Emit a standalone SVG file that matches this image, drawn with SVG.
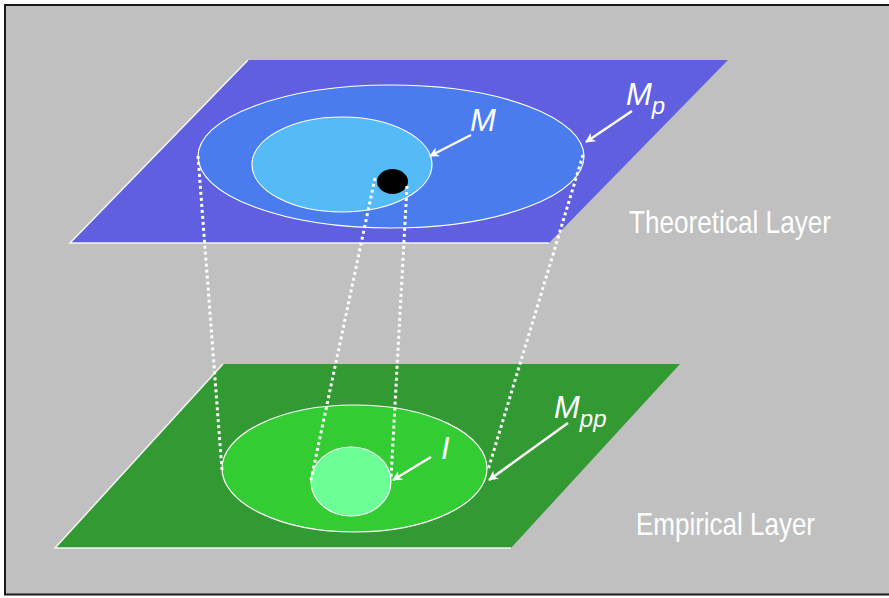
<svg xmlns="http://www.w3.org/2000/svg" width="889" height="598" viewBox="0 0 889 598">
<style>
.edge{fill:none;stroke:#f4f4f4;stroke-width:1.5}
.ell{stroke:#ffffff;stroke-width:1.2}
.dot{fill:none;stroke:#ffffff;stroke-width:3;stroke-dasharray:3 3}
.arr{fill:none;stroke:#ffffff;stroke-width:2.5;marker-end:url(#ah)}
.lab{font-family:"Liberation Sans",Arial,sans-serif;font-style:italic;fill:#ffffff}
.layer{font-family:"Liberation Sans",Arial,sans-serif;fill:#ffffff;font-size:32px}
</style>
<defs>
<marker id="ah" viewBox="0 0 10 10" refX="9" refY="5" markerWidth="4" markerHeight="4" orient="auto" markerUnits="strokeWidth">
<path d="M0,0 L10,5 L0,10 L3,5 Z" fill="#ffffff"/>
</marker>
</defs>
<rect x="0" y="0" width="889" height="598" fill="#ffffff"/>
<rect x="5" y="5" width="892" height="589.5" fill="#c0c0c0" stroke="#1a1a1a" stroke-width="2"/>

<g id="theoretical-layer">
<polygon points="248,60 728,60 549,243 70,243" fill="#5f5fdf"/>
<polyline class="edge" points="248,60 70,243 549,243"/>
</g>
<g id="Mp-set">
<ellipse class="ell" cx="391" cy="156.5" rx="193" ry="71.5" fill="#4a7cee"/>
</g>
<g id="M-set">
<ellipse class="ell" cx="342" cy="164.5" rx="90" ry="47.5" fill="#55bbf6"/>
</g>
<g id="point">
<ellipse cx="392.5" cy="181.5" rx="15.5" ry="12.5" fill="#000000"/>
</g>

<g id="empirical-layer">
<polygon points="223,364 680,364 511,548 55,548" fill="#339933"/>
<polyline class="edge" points="223,364 55,548 511,548"/>
</g>
<g id="Mpp-set">
<ellipse class="ell" cx="354.5" cy="468.5" rx="132.5" ry="63.5" fill="#33cc33"/>
</g>
<g id="I-set">
<ellipse class="ell" cx="351" cy="481.5" rx="40" ry="34.5" fill="#6cff96"/>
</g>

<g id="connectors">
<line class="dot" x1="198" y1="156" x2="222" y2="470"/>
<line class="dot" x1="583" y1="155" x2="488" y2="470"/>
<line class="dot" x1="375" y1="178" x2="311" y2="480"/>
<line class="dot" x1="407" y1="186" x2="391" y2="478"/>
<line class="arr" x1="471" y1="135" x2="430" y2="156"/>
<line class="arr" x1="632" y1="111" x2="586" y2="142"/>
<line class="arr" x1="431" y1="457" x2="393" y2="480"/>
<line class="arr" x1="568" y1="423" x2="489" y2="480"/>
</g>

<g id="labels">
<text class="lab" x="470" y="131" font-size="31">M</text>
<text class="lab" x="626" y="105" font-size="31">M<tspan font-size="24" dy="9">p</tspan></text>
<text class="lab" x="554" y="418" font-size="31">M<tspan font-size="24" dy="9">pp</tspan></text>
<text class="lab" x="441" y="459" font-size="31">I</text>
<text class="layer" x="629" y="233" textLength="202" lengthAdjust="spacingAndGlyphs">Theoretical Layer</text>
<text class="layer" x="636" y="535" textLength="179" lengthAdjust="spacingAndGlyphs">Empirical Layer</text>
</g>
</svg>
